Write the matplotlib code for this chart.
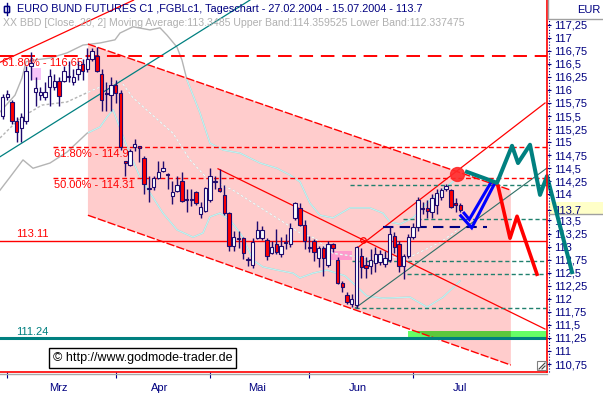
import matplotlib
matplotlib.use("Agg")
import numpy as np
import matplotlib.pyplot as plt
import matplotlib.transforms as mtransforms
from matplotlib.patches import Polygon, Rectangle
from matplotlib.lines import Line2D
from matplotlib.ticker import FuncFormatter

plt.rcParams['font.family'] = ['Liberation Sans', 'DejaVu Sans']

NAVY = '#000080'
CANDLE = '#1e0a6e'

# Tageskerzen 27.02.2004 - 15.07.2004 (ein Index pro Handelstag)
opens = [115.50, 115.87, 115.77, 115.40, 115.28, 115.40, 116.45, 115.97, 115.90, 115.86,
         116.06, 116.06, 116.17, 116.17, 116.25, 116.15, 116.30, 116.50, 116.40, 116.60,
         116.65, 116.30, 115.95, 115.90,
         116.10, 115.95, 114.63, 114.56, 114.90, 114.92, 114.69, 114.10, 114.15, 114.31,
         114.44, 114.39, 113.96, 114.06, 114.25, 113.91, 113.90, 114.04, 113.62, 113.69,
         113.90, 114.24, 114.12, 113.99, 113.65, 113.02, 113.15, 113.17, 112.74, 112.65,
         113.17, 113.17, 113.13, 112.88, 113.04, 112.85, 113.07, 113.04, 113.54, 113.73, 113.42,
         112.97, 113.10, 112.79, 112.98, 112.65, 113.04, 112.75, 112.31, 112.08, 111.90,
         111.88, 112.81, 112.65, 112.63, 112.69, 112.71, 112.67, 112.75, 113.21, 113.04,
         112.63, 112.81,
         113.19, 113.37, 113.74, 113.73, 113.66, 113.80, 113.95, 114.10, 114.08, 113.83, 113.80]
highs = [115.92, 116.00, 115.80, 115.48, 115.55, 116.45, 116.72, 116.25, 116.05, 116.15,
         116.40, 116.30, 116.25, 116.45, 116.55, 116.40, 116.55, 116.60, 116.80, 116.80,
         116.83, 116.40, 116.15, 116.25,
         116.20, 116.00, 114.64, 114.87, 115.06, 114.93, 114.73, 114.35, 114.35, 114.63,
         114.63, 114.40, 114.25, 114.35, 114.42, 114.10, 114.10, 114.06, 113.85, 114.15,
         114.50, 114.35, 114.49, 114.17, 113.67, 113.30, 113.29, 113.18, 112.80, 113.17,
         113.48, 113.40, 113.17, 113.10, 113.33, 113.18, 113.25, 113.46, 113.85, 113.83, 113.50,
         113.20, 113.15, 113.02, 113.02, 113.10, 113.06, 112.80, 112.34, 112.12, 112.10,
         113.02, 112.98, 112.80, 112.95, 112.99, 112.94, 112.92, 113.40, 113.27, 113.10,
         112.85, 113.25,
         113.46, 113.95, 113.85, 113.90, 114.00, 114.10, 114.12, 114.20, 114.10, 113.93, 113.83]
lows = [115.45, 115.80, 115.35, 115.00, 115.00, 115.35, 116.20, 115.70, 115.80, 115.80,
        115.70, 116.00, 115.70, 116.15, 116.15, 116.10, 116.20, 116.20, 116.35, 116.55,
        116.35, 115.60, 115.60, 115.60,
        115.75, 114.85, 114.35, 114.54, 114.83, 114.62, 114.00, 113.86, 114.08, 114.29,
        114.42, 114.10, 113.81, 114.04, 113.86, 113.67, 113.77, 113.80, 113.54, 113.67,
        113.85, 114.10, 114.04, 113.60, 112.92, 112.92, 112.98, 112.77, 112.62, 112.58,
        113.15, 113.12, 112.75, 112.85, 112.86, 112.80, 112.95, 113.00, 113.50, 113.40, 112.96,
        112.90, 112.73, 112.60, 112.44, 112.60, 112.90, 112.28, 112.13, 111.90, 111.85,
        111.83, 112.40, 112.40, 112.48, 112.52, 112.65, 112.60, 112.71, 112.87, 112.52,
        112.38, 112.78,
        113.15, 113.30, 113.62, 113.55, 113.55, 113.62, 113.90, 114.06, 113.74, 113.66, 113.66]
closes = [115.87, 115.93, 115.40, 115.20, 115.48, 116.36, 116.52, 116.03, 115.97, 115.97,
          116.27, 116.17, 115.88, 116.36, 116.26, 116.25, 116.40, 116.37, 116.60, 116.75,
          116.37, 115.80, 115.92, 116.10,
          115.95, 114.90, 114.61, 114.83, 114.96, 114.88, 114.19, 114.12, 114.31, 114.42,
          114.50, 114.38, 114.04, 114.17, 113.88, 113.90, 113.92, 113.83, 113.75, 114.13,
          114.35, 114.26, 114.06, 113.65, 113.02, 113.19, 113.16, 112.87, 112.76, 113.08,
          113.31, 113.31, 112.81, 113.00, 112.90, 113.02, 113.09, 113.36, 113.83, 113.42, 113.10,
          112.99, 112.90, 112.98, 112.79, 113.04, 112.98, 112.31, 112.23, 111.94, 112.00,
          113.00, 112.60, 112.58, 112.75, 112.85, 112.85, 112.79, 113.25, 113.00, 112.63,
          112.81, 113.19,
          113.38, 113.89, 113.72, 113.68, 113.93, 114.03, 114.08, 114.16, 113.76, 113.80, 113.70]
last_close = 113.7

month_starts = [1, 24, 44, 65, 87]
month_mid = [11.8, 33.4, 53.9, 75.3, 96.9]
month_names = ["Mrz", "Apr", "Mai", "Jun", "Jul"]

# Bollinger-Baender (20, 2)
upper_x = [-0.53, 2.65, 4.13, 4.98, 6.46, 10.06, 13.67, 17.06, 20.66, 23.83, 24.89, 27.65,
           31.25, 33.37, 34.85, 36.97, 38.03, 39.09, 41.84, 43.96, 46.72, 50.32, 54.56,
           58.16, 60.91, 63.03, 65.15, 67.27, 70.02, 73.62, 77.86, 80.61, 82.10, 84.22,
           86.97, 90.57, 93.75, 96.93]
upper_y = [115.58, 115.90, 116.23, 116.54, 116.57, 116.61, 116.71, 116.86, 116.90, 116.96,
           117.09, 117.21, 117.15, 117.19, 117.05, 116.82, 116.57, 116.19, 115.56, 114.98,
           114.85, 114.79, 114.60, 114.50, 114.37, 114.24, 113.83, 113.60, 113.55, 113.74,
           113.74, 113.64, 113.47, 113.43, 113.55, 113.89, 114.12, 114.35]
ma_x = [-0.53, 3.71, 8.37, 13.67, 19.17, 22.78, 24.89, 27.65, 31.25, 36.12, 39.72, 43.33,
        48.83, 54.56, 58.79, 63.03, 66.21, 70.02, 77.22, 86.33, 92.69, 96.93]
ma_y = [115.08, 115.46, 115.71, 115.77, 116.00, 116.13, 116.19, 115.85, 115.56, 115.17,
        114.66, 114.31, 114.08, 113.75, 113.51, 113.26, 113.16, 112.87, 112.78, 112.80,
        113.08, 113.35]
lower_x = [-0.53, 1.59, 4.34, 6.46, 10.06, 13.67, 17.90, 20.66, 22.14, 23.41, 26.38, 29.13,
           31.25, 34.00, 36.97, 40.36, 42.48, 43.96, 46.08, 48.20, 50.95, 53.07, 55.19,
           58.16, 61.55, 63.03, 65.78, 68.75, 72.56, 75.11, 77.22, 80.61, 86.33, 89.94,
           93.33, 96.93]
lower_y = [114.08, 114.33, 114.66, 114.50, 114.60, 114.81, 115.17, 115.29, 115.48, 115.62,
           114.91, 114.33, 114.03, 113.64, 113.32, 113.18, 113.26, 113.57, 113.64, 113.51,
           113.18, 112.74, 112.61, 112.55, 112.49, 112.40, 112.49, 112.55, 112.44, 112.23,
           112.05, 112.01, 112.03, 111.84, 112.03, 112.34]

# Trendkanal und Linien
channel_x = [18.1, 107.7]
channel_top = [116.88, 114.08]
channel_bottom = [113.60, 110.73]
early_red_x, early_red_y = [-0.53, 27.75], [116.53, 117.72]
early_teal_x, early_teal_y = [-0.53, 52.4], [114.72, 117.72]
down_x, down_y = [45.66, 114.94], [114.49, 111.42]
upred_x, upred_y = [75.1, 114.94], [112.97, 115.75]
upteal_x, upteal_y = [74.7, 115.6], [111.82, 114.52]
cross_x, cross_y = 76.4, 113.12

fib_levels = [116.65, 114.9, 114.31]
fib_start = [-0.53, 10.7, 10.7]
fib_labels = ["61.80% - 116.65", "61.80% - 114.9", "50.00% - 114.31"]
support_red = 113.11
support_teal = 111.24
teal_levels = [114.18, 113.53, 112.72, 112.47, 111.82]
teal_start = [73.6, 84.85, 74.05, 85.7, 74.7]
navy_level, navy_x = 113.37, [80.6, 102.6]

march_box = ([6.04, 8.16], [116.19, 116.42])
june_box = ([68.96, 74.05], [112.74, 112.91])
green_zone = ([85.9, 115.4], [111.24, 111.39])
red_dot = (96.3, 114.39)

blue_outer = ([97.08, 99.41, 104.34], [113.59, 113.36, 114.22])
blue_inner = ([97.78, 98.90, 103.43], [113.64, 113.52, 114.22])
teal_path = ([98.41, 104.77, 107.95, 109.22, 111.76, 113.88, 115.36, 120.66],
             [114.43, 114.22, 114.93, 114.60, 114.95, 113.99, 114.35, 112.51])
red_path = ([104.98, 107.52, 109.01, 113.24], [114.16, 113.16, 113.58, 112.47])

W, H = 603, 393
fig = plt.figure(figsize=(W / 100, H / 100), dpi=100)
ax = fig.add_axes([0, 21 / H, 547 / W, 372 / H])
ax.set_xlim(-0.53, 115.36)
ax.set_ylim(110.597, 117.723)

# rosa Kanal
chan = Polygon([(channel_x[0], channel_top[0]), (channel_x[1], channel_top[1]),
                (channel_x[1], channel_bottom[1]), (channel_x[0], channel_bottom[0])],
               closed=True, facecolor='#ffcccc', edgecolor='none', zorder=1)
ax.add_patch(chan)
ax.plot(channel_x, channel_top, color='red', lw=1.0, dashes=(6, 1.5), zorder=3)
ax.plot(channel_x, channel_bottom, color='red', lw=1.0, dashes=(6, 1.5), zorder=3)

# Markierungen
ax.add_patch(Rectangle((march_box[0][0], march_box[1][0]), march_box[0][1] - march_box[0][0],
                       march_box[1][1] - march_box[1][0], facecolor='#f8c4f8', edgecolor='none', zorder=1.5))
ax.add_patch(Rectangle((june_box[0][0], june_box[1][0]), june_box[0][1] - june_box[0][0],
                       june_box[1][1] - june_box[1][0], facecolor='#ff99cc', edgecolor='none', zorder=1.5))
gz = dict(xy=(green_zone[0][0], green_zone[1][0]), width=green_zone[0][1] - green_zone[0][0],
          height=green_zone[1][1] - green_zone[1][0], edgecolor='none', zorder=1.5)
ax.add_patch(Rectangle(facecolor='#66ff66', **gz))
g2 = Rectangle(facecolor='#5cc83c', **gz)
ax.add_patch(g2)
g2.set_clip_path(chan)

# Bollinger
for xs, ys, ls in [(upper_x, upper_y, '-'), (lower_x, lower_y, '-'), (ma_x, ma_y, '--')]:
    ax.plot(xs, ys, color='#b4b4b4', lw=1, ls=ls, dashes=(2, 1.5) if ls == '--' else (None, None), zorder=2)
    ln, = ax.plot(xs, ys, color='#bdf2f2' if ls == '-' else '#f6f6f6', lw=1, zorder=2.1,
                  ls=ls, dashes=(2, 1.5) if ls == '--' else (None, None))
    ln.set_clip_path(chan)

# Trendlinien
ax.plot(early_red_x, early_red_y, color='red', lw=0.9, zorder=3)
ax.plot(early_teal_x, early_teal_y, color='#008080', lw=0.9, zorder=3)
ax.plot(down_x, down_y, color='red', lw=0.9, zorder=3)
ax.plot(upred_x, upred_y, color='red', lw=0.9, zorder=3)
ax.plot(upteal_x, upteal_y, color='#2f6f66', lw=0.8, zorder=3)
ax.plot([cross_x], [cross_y], marker='o', ms=4, mfc='none', mec='red', mew=0.9, zorder=3)

# Horizontale
for lvl, x0, lab, i in zip(fib_levels, fib_start, fib_labels, range(3)):
    ax.plot([x0, 116], [lvl, lvl], color='red', lw=1.4 if i == 0 else 1.0,
            dashes=(7, 4) if i == 0 else (3.5, 2), zorder=3)
    ax.text(x0 + 0.45 if i == 0 else x0 + 0.2, lvl - 0.03, lab, color='red', fontsize=8,
            va='top', ha='left', zorder=3)
ax.axhline(support_red, color='red', lw=1.0, zorder=3)
ax.text(2.85, support_red + 0.035, "113.11", color='red', fontsize=8, va='bottom', zorder=3)
ax.axhline(support_teal, color='#008080', lw=2.2, zorder=3)
ax.text(2.85, support_teal + 0.035, "111.24", color='#008080', fontsize=8, va='bottom', zorder=3)
for lvl, x0 in zip(teal_levels, teal_start):
    ax.plot([x0, 116], [lvl, lvl], color='#20806e', lw=1.0, dashes=(3, 2), zorder=3)
ax.plot(navy_x, [navy_level, navy_level], color=NAVY, lw=1.5, dashes=(5, 3), zorder=3.5)

# Kerzen
idx = np.arange(len(closes))
o, h, l, c = map(np.array, (opens, highs, lows, closes))
ax.vlines(idx, l, h, color=CANDLE, lw=1.0, zorder=4)
body_lo = np.minimum(o, c)
body_h = np.maximum(np.abs(c - o), 0.012)
cols = np.where(c >= o, 'white', '#ff0000')
ax.bar(idx, body_h, bottom=body_lo, width=0.72, color=cols, edgecolor=CANDLE, lw=0.8, zorder=4.5)

# Szenarien
ax.plot(*red_dot, marker='o', ms=10, color='#ff2a2a', alpha=0.9, zorder=5)
ax.plot(*blue_outer, color='#0000ff', lw=2.2, zorder=5, solid_joinstyle='miter')
ax.plot(*blue_inner, color='#0000ff', lw=2.2, zorder=5, solid_joinstyle='miter')
ax.plot(*red_path, color='#ff0000', lw=2.6, zorder=5)
ax.plot(*teal_path, color='#008080', lw=2.9, zorder=5, clip_on=False)

# Achsen
for s in ['top', 'left']:
    ax.spines[s].set_visible(False)
for s in ['right', 'bottom']:
    ax.spines[s].set_color('red')
    ax.spines[s].set_linewidth(1.2)
    ax.spines[s].set_zorder(6)

price_ticks = [t for t in np.arange(110.75, 117.26, 0.25) if abs(t - 113.75) > 1e-6] + [last_close]
ax.yaxis.tick_right()
ax.set_yticks(price_ticks)
ax.yaxis.set_major_formatter(FuncFormatter(
    lambda v, p: f"{v:.1f}" if abs(v - last_close) < 1e-6 else f"{v:g}".replace(".", ",")))
ax.tick_params(axis='y', length=3, width=0.8, color=NAVY, labelcolor=NAVY, labelsize=8, pad=2)

ax.set_xticks(month_starts)
ax.set_xticklabels([])
ax.set_xticks(month_mid, minor=True)
ax.set_xticklabels(month_names, minor=True)
ax.tick_params(axis='x', which='major', length=4, width=0.8, color=NAVY)
ax.tick_params(axis='x', which='minor', length=0, labelsize=8, labelcolor=NAVY, pad=8)

# Kursbox 113.7
bt = mtransforms.blended_transform_factory(fig.transFigure, ax.transData)
ax.add_patch(Rectangle((549 / W, 113.62), 1 - 549 / W, 0.23, transform=bt, facecolor='#ffffc8',
                       edgecolor='none', clip_on=False, zorder=0.5))
ax.add_artist(Line2D([549 / W, 1], [113.62, 113.62], transform=bt, color='#a0a0a0', lw=1, clip_on=False))

# Rahmen / Deko
fig.add_artist(Line2D([549 / W, 549 / W], [21 / H, 1 - 20 / H], color=NAVY, lw=0.8, ls=':'))
fig.add_artist(Line2D([0, 547 / W], [1 - 373.5 / H, 1 - 373.5 / H], color='#a8a8a8', lw=1))
fig.add_artist(Line2D([548 / W, 548 / W, 1], [1, 1 - 19 / H, 1 - 19 / H], color='#a0a0a0', lw=1))
fig.text(601 / W, 1 - 10 / H, "EUR", color=NAVY, fontsize=8, ha='right', va='center')

fig.add_artist(Rectangle((4 / W, 1 - 12 / H), 5 / W, 6 / H, transform=fig.transFigure,
                         facecolor='white', edgecolor=NAVY, lw=1))
fig.add_artist(Line2D([6.5 / W, 6.5 / W], [1 - 15 / H, 1 - 3 / H], color=NAVY, lw=1))
fig.add_artist(Rectangle((4 / W, 1 - 12 / H), 5 / W, 6 / H, transform=fig.transFigure,
                         facecolor='white', edgecolor=NAVY, lw=1))
fig.text(17 / W, 1 - 9 / H, "EURO BUND FUTURES C1 ,FGBLc1, Tageschart - 27.02.2004 - 15.07.2004 - 113.7",
         color=NAVY, fontsize=7.8, va='center')
fig.text(3 / W, 1 - 23.5 / H,
         "XX BBD [Close, 20, 2] Moving Average:113.3485 Upper Band:114.359525 Lower Band:112.337475",
         color='#b0b0b0', fontsize=7.6, va='center')
fig.text(53 / W, 1 - 358 / H, "© http://www.godmode-trader.de", color='black', fontsize=9, va='center',
         bbox=dict(boxstyle='square,pad=0.3', facecolor='white', edgecolor='black', lw=1))

fig.add_artist(Rectangle((537 / W, 1 - 370 / H), 9 / W, 9 / H, transform=fig.transFigure,
                         facecolor='white', edgecolor='#808080', lw=0.8))
fig.add_artist(Line2D([539 / W, 545 / W], [1 - 369 / H, 1 - 363 / H], color='#404040', lw=0.8))
fig.add_artist(Line2D([542 / W, 545 / W], [1 - 369 / H, 1 - 366 / H], color='#404040', lw=0.8))

fig.savefig('out.png', dpi=100)
